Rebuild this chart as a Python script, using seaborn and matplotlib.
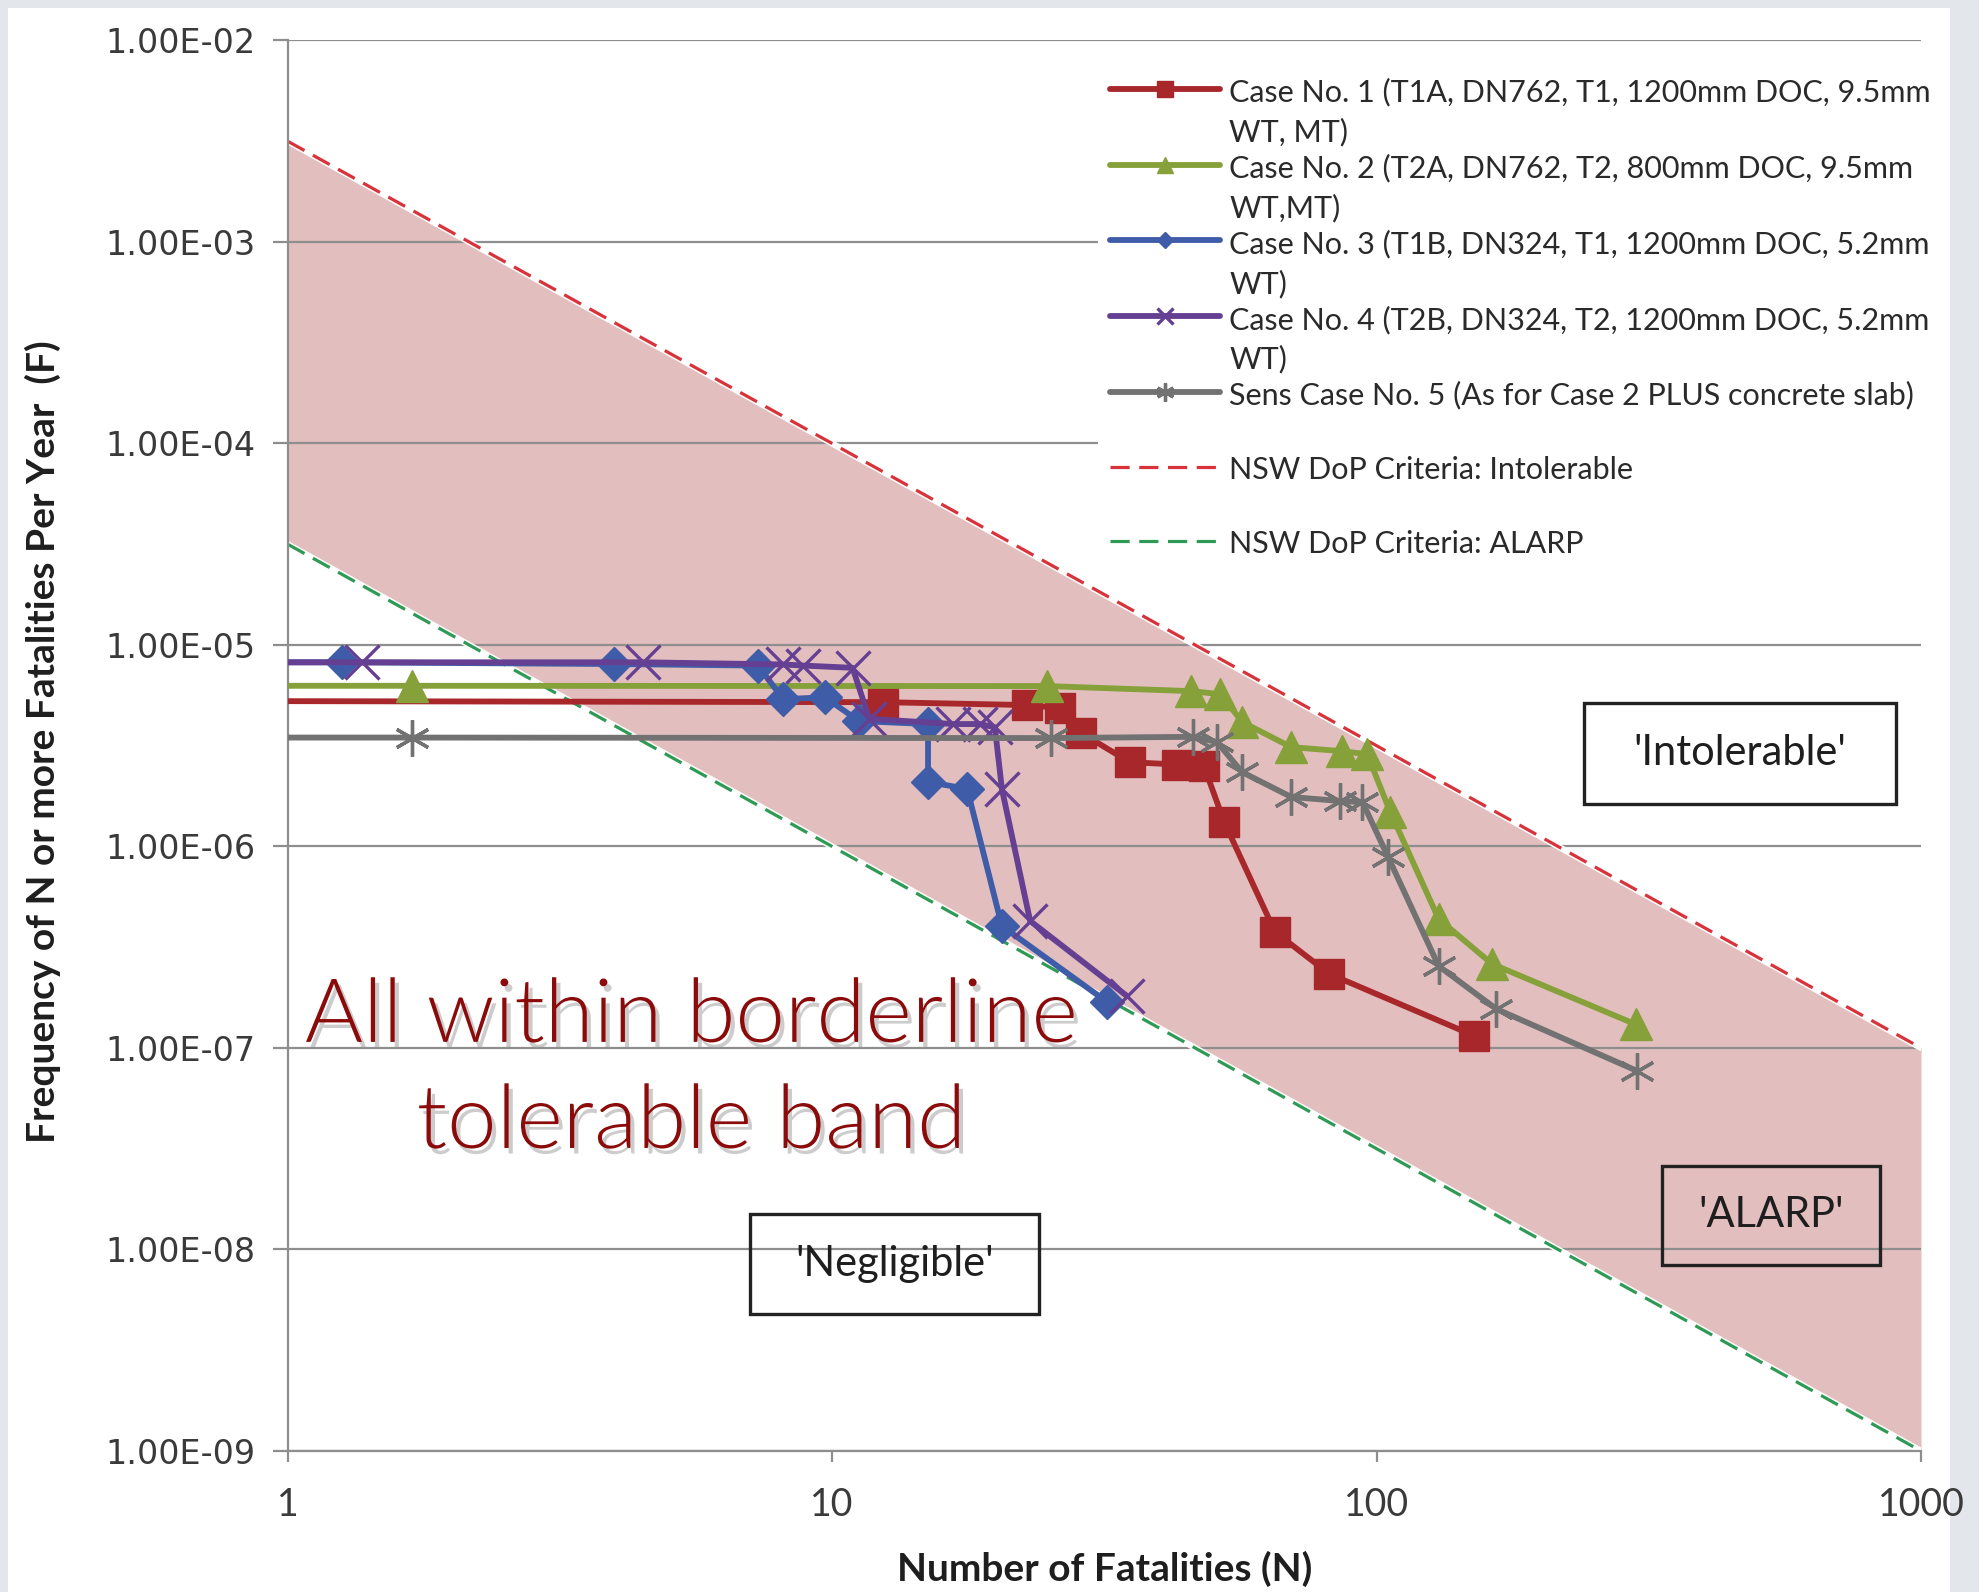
import matplotlib
matplotlib.use("Agg")
import matplotlib.pyplot as plt
import matplotlib.patheffects as pe
from matplotlib.patches import Rectangle
import seaborn as sns

# NSW DoP criteria lines (end points)
criteria_n = [1, 1000]
intolerable_f = [3.16e-3, 1e-7]
alarp_f = [3.16e-5, 1e-9]

# F-N curves (first point at N=1 has no marker)
case1_n = [1, 12.4, 22.8, 26.2, 28.7, 35.2, 43.0, 48.2, 52.5, 65.1, 81.9, 151]
case1_f = [5.26e-6, 5.2e-6, 5.03e-6, 4.86e-6, 3.65e-6, 2.62e-6, 2.55e-6,
           2.5e-6, 1.32e-6, 3.76e-7, 2.33e-7, 1.15e-7]

case2_n = [1, 1.69, 24.8, 45.6, 51.6, 56.7, 69.7, 86.5, 96.1, 106, 130, 163, 299]
case2_f = [6.27e-6, 6.27e-6, 6.25e-6, 5.9e-6, 5.7e-6, 4.14e-6, 3.11e-6,
           2.97e-6, 2.87e-6, 1.48e-6, 4.37e-7, 2.61e-7, 1.31e-7]

case3_n = [1, 1.257, 3.98, 7.31, 8.13, 9.7, 11.2, 15.0, 15.0, 17.7, 20.5, 32.0]
case3_f = [8.2e-6, 8.2e-6, 8.04e-6, 7.9e-6, 5.38e-6, 5.5e-6, 4.19e-6,
           4.05e-6, 2.09e-6, 1.93e-6, 4.03e-7, 1.69e-7]

case4_n = [1, 1.37, 4.5, 8.13, 8.85, 10.9, 11.7, 16.7, 18.7, 19.9, 20.5, 23.1, 34.8]
case4_f = [8.2e-6, 8.2e-6, 8.2e-6, 8.0e-6, 7.9e-6, 7.7e-6, 4.3e-6,
           4.05e-6, 4.05e-6, 3.9e-6, 1.93e-6, 4.27e-7, 1.81e-7]

case5_n = [1, 1.69, 25.2, 46.0, 50.9, 56.6, 69.7, 85.7, 94.2, 105, 130, 166, 301]
case5_f = [3.47e-6, 3.47e-6, 3.45e-6, 3.5e-6, 3.3e-6, 2.34e-6, 1.76e-6,
           1.68e-6, 1.66e-6, 8.85e-7, 2.55e-7, 1.56e-7, 7.69e-8]

case_labels = [
    "Case No. 1 (T1A, DN762, T1, 1200mm DOC, 9.5mm\nWT, MT)",
    "Case No. 2 (T2A, DN762, T2, 800mm DOC, 9.5mm\nWT,MT)",
    "Case No. 3 (T1B, DN324, T1, 1200mm DOC, 5.2mm\nWT)",
    "Case No. 4 (T2B, DN324, T2, 1200mm DOC, 5.2mm\nWT)",
    "Sens Case No. 5 (As for Case 2 PLUS concrete slab)\n",
]
criteria_labels = ["NSW DoP Criteria: Intolerable\n", "NSW DoP Criteria: ALARP"]

y_ticks = [1e-9, 1e-8, 1e-7, 1e-6, 1e-5, 1e-4, 1e-3, 1e-2]
y_tick_labels = ["1.00E-09", "1.00E-08", "1.00E-07", "1.00E-06",
                 "1.00E-05", "1.00E-04", "1.00E-03", "1.00E-02"]
x_ticks = [1, 10, 100, 1000]
x_tick_labels = ["1", "10", "100", "1000"]

sns.set_theme(style="white")
plt.rcParams["font.family"] = ["Lato", "DejaVu Sans"]

fig = plt.figure(figsize=(19.79, 15.92), dpi=100, facecolor="#e3e6eb")
fig.patches.append(Rectangle((8 / 1979, 0), 1942 / 1979, 1584 / 1592,
                             transform=fig.transFigure, facecolor="white",
                             edgecolor="none", zorder=-5))
ax = fig.add_axes([0.1454, 0.0886, 0.8253, 0.886])
ax.set_zorder(1)
ax.set_facecolor("white")
ax.set_xscale("log")
ax.set_yscale("log")

band = "#e2bfbe"
ax.fill_between(criteria_n, alarp_f, intolerable_f, color=band, lw=0, zorder=0.3)

sns.lineplot(x=criteria_n, y=intolerable_f, ax=ax, color="white", lw=4.5, zorder=2)
sns.lineplot(x=criteria_n, y=alarp_f, ax=ax, color="white", lw=4.5, zorder=2)
sns.lineplot(x=criteria_n, y=intolerable_f, ax=ax, color="#d8323a", lw=2.3,
             linestyle=(0, (6, 3)), label=criteria_labels[0], zorder=2.1)
sns.lineplot(x=criteria_n, y=alarp_f, ax=ax, color="#2f9a55", lw=2.3,
             linestyle=(0, (6, 3)), label=criteria_labels[1], zorder=2.1)

cases = [
    (case1_n, case1_f, "#a8272b", "s", 22, 1.0),
    (case2_n, case2_f, "#86a03a", "^", 23, 1.0),
    (case3_n, case3_f, "#3f5ca8", "D", 17, 1.0),
    (case4_n, case4_f, "#653f91", "x", 24, 2.4),
    (case5_n, case5_f, "#727272", (6, 2, 0), 26, 2.4),
]
for (n, f, col, mk, ms, mew), lab in zip(cases, case_labels):
    sns.lineplot(x=n, y=f, ax=ax, color=col, lw=4.2, sort=False, estimator=None,
                 marker=mk, markersize=ms, markeredgecolor=col,
                 markeredgewidth=mew, markevery=list(range(1, len(n))),
                 label=lab, zorder=3)

ax.set_xlim(1, 1000)
ax.set_ylim(1e-9, 1e-2)
ax.set_xticks(x_ticks)
ax.set_xticklabels(x_tick_labels)
ax.set_yticks(y_ticks)
ax.set_yticklabels(y_tick_labels)
ax.minorticks_off()

ax.set_axisbelow(True)
ax.yaxis.grid(True, color="#8e8e8e", lw=1.6)
ax.xaxis.grid(False)
for side in ["top", "right"]:
    ax.spines[side].set_visible(False)
for side in ["left", "bottom"]:
    ax.spines[side].set_color("#8e8e8e")
    ax.spines[side].set_linewidth(1.6)

ax.tick_params(axis="y", direction="out", length=11, width=1.6, color="#8e8e8e",
               labelsize=24, labelcolor="#3a3a3a", pad=12, left=True)
ax.tick_params(axis="x", direction="out", length=8, width=1.6, color="#8e8e8e",
               labelsize=27, labelcolor="#3a3a3a", pad=18, bottom=True)
for t in ax.get_yticklabels():
    t.set_fontfamily("DejaVu Sans")

ax.set_ylabel("Frequency of N or more Fatalities Per Year  (F)", fontsize=28,
              fontweight="bold", color="#1e1e1e")
ax.yaxis.set_label_coords(-0.1388, 0.503)
ax.set_xlabel("Number of Fatalities (N)", fontsize=28, fontweight="bold",
              color="#1e1e1e")
ax.xaxis.set_label_coords(0.5, -0.071)

handles, labels = ax.get_legend_handles_labels()
order = case_labels + criteria_labels
hmap = dict(zip(labels, handles))
leg = ax.legend([hmap[l] for l in order], order, loc="upper left",
                bbox_to_anchor=(0.496, 0.982), frameon=True, fancybox=False,
                framealpha=1, facecolor="white", edgecolor="none", fontsize=22,
                handlelength=3.6, handletextpad=0.3, labelspacing=0.24,
                markerscale=0.5, borderpad=0.4, borderaxespad=0)
for col in leg._legend_handle_box.get_children():
    for row in col.get_children():
        row.align = "top"
for t in leg.get_texts():
    t.set_color("#2a2a2a")
    t.set_linespacing(1.47)

# region boxes
boxes = [
    ("'Intolerable'", 0.7937, 0.4587, 0.9847, 0.5303),
    ("'ALARP'", 0.8416, 0.1319, 0.9751, 0.2020),
    ("'Negligible'", 0.2831, 0.0971, 0.4600, 0.1680),
]
for txt, x0, y0, x1, y1 in boxes:
    ax.add_patch(Rectangle((x0, y0), x1 - x0, y1 - y0, transform=ax.transAxes,
                           facecolor="none", edgecolor="#222222", lw=2.4, zorder=4))
    ax.text((x0 + x1) / 2, (y0 + y1) / 2, txt, transform=ax.transAxes,
            ha="center", va="center", fontsize=30, color="#1e1e1e", zorder=5)

shadow = [pe.SimplePatchShadow(offset=(3, -4), shadow_rgbFace="#9a9a9a", alpha=0.5),
          pe.Normal()]
ax.text(0.247, 0.290, "All within borderline", transform=ax.transAxes,
        ha="center", va="baseline", fontsize=64, color="#8b0a0a",
        fontweight=300, path_effects=shadow, zorder=6)
ax.text(0.247, 0.2148, "tolerable band", transform=ax.transAxes,
        ha="center", va="baseline", fontsize=64, color="#8b0a0a",
        fontweight=300, path_effects=shadow, zorder=6)

fig.savefig("out.png", dpi=100, facecolor=fig.get_facecolor())
